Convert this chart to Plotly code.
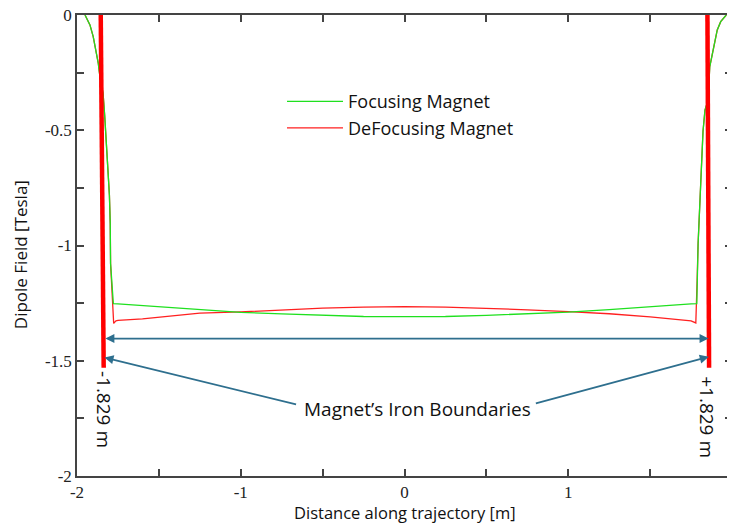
import plotly.graph_objects as go

# ---------------- data ----------------
focus_x = [-1.951, -1.921, -1.901, -1.884, -1.870, -1.860, -1.841, -1.831, -1.821, -1.811,
           -1.802, -1.797, -1.795, -1.785, -1.778,
           -1.75, -1.5, -1.25, -1.0, -0.75, -0.5, -0.25, 0.0, 0.25, 0.5, 0.75, 1.0, 1.25, 1.5, 1.75,
           1.785, 1.787, 1.793, 1.809, 1.823, 1.835, 1.854, 1.864, 1.876, 1.890, 1.910, 1.931, 1.965]
focus_y = [0.0, -0.043, -0.094, -0.152, -0.210, -0.268, -0.339, -0.435, -0.535, -0.674,
           -0.783, -0.904, -1.078, -1.196, -1.252,
           -1.253, -1.265, -1.280, -1.290, -1.297, -1.303, -1.308, -1.309, -1.308, -1.303, -1.297, -1.289, -1.278, -1.264, -1.253,
           -1.252, -1.152, -0.991, -0.730, -0.504, -0.413, -0.370, -0.225, -0.181, -0.122, -0.065, -0.029, 0.0]

defocus_x = [-1.951, -1.921, -1.901, -1.884, -1.870, -1.860, -1.841, -1.831, -1.821, -1.811,
             -1.802, -1.797, -1.795, -1.788, -1.776, -1.762,
             -1.75, -1.6, -1.5, -1.25, -1.0, -0.75, -0.5, -0.25, 0.0, 0.25, 0.5, 0.75, 1.0, 1.25, 1.5, 1.6, 1.75,
             1.779, 1.785, 1.787, 1.793, 1.809, 1.823, 1.835, 1.854, 1.864, 1.876, 1.890, 1.910, 1.931, 1.965]
defocus_y = [0.0, -0.043, -0.094, -0.152, -0.210, -0.268, -0.339, -0.435, -0.535, -0.674,
             -0.783, -0.904, -1.078, -1.196, -1.338, -1.327,
             -1.325, -1.318, -1.310, -1.293, -1.288, -1.279, -1.272, -1.267, -1.265, -1.267, -1.272, -1.279, -1.287, -1.296, -1.310, -1.318, -1.327,
             -1.336, -1.240, -1.152, -0.991, -0.730, -0.504, -0.413, -0.370, -0.225, -0.181, -0.122, -0.065, -0.029, 0.0]

# iron boundary markers (thick red lines)
bound_y = [0.0, -1.53]
bound_left_x = [-1.855, -1.837]
bound_right_x = [1.850, 1.860]

# annotation anchor values
span_y = -1.404
span_left_x = -1.836
span_right_x = 1.857
diag_head_left = (-1.832, -1.486)
diag_tail_left = (-0.653, -1.691)
diag_head_right = (1.858, -1.483)
diag_tail_right = (0.793, -1.687)
label_pos = (0.079, -1.709)
left_label_pos = (-1.835, -1.709)
right_label_pos = (1.851, -1.743)

x_tickvals = [-2, -1.5, -1, -0.5, 0, 0.5, 1, 1.5, 2]
x_ticktext = ["-2", "", "-1", "", "0", "", "1", "", "2"]
y_tickvals = [0, -0.25, -0.5, -0.75, -1, -1.25, -1.5, -1.75, -2]
y_ticktext = ["0", "", "-0.5", "", "-1", "", "-1.5", "", "-2"]

x_title = "Distance along trajectory [m]"
y_title = "Dipole Field [Tesla]"

GREEN = "#1fe01f"
RED = "#ff2020"
ARROW = "#2e6f8e"
AXIS = "#444444"
SANS = "Open Sans"
SERIF = "Liberation Serif, DejaVu Serif, serif"
TXT = "#111111"

fig = go.Figure()
fig.add_trace(go.Scatter(x=defocus_x, y=defocus_y, mode="lines", name="DeFocusing Magnet",
                         line=dict(color=RED, width=1.3), legendrank=2))
fig.add_trace(go.Scatter(x=focus_x, y=focus_y, mode="lines", name="Focusing Magnet",
                         line=dict(color=GREEN, width=1.3), legendrank=1))
fig.add_trace(go.Scatter(x=bound_left_x, y=bound_y, mode="lines", showlegend=False,
                         line=dict(color="#ff0000", width=4.5)))
fig.add_trace(go.Scatter(x=bound_right_x, y=bound_y, mode="lines", showlegend=False,
                         line=dict(color="#ff0000", width=4.5)))

annots = []
annots.append(dict(x=span_right_x, y=span_y, ax=span_left_x, ay=span_y, xref="x", yref="y",
                   axref="x", ayref="y", text="", showarrow=True, arrowhead=2, arrowside="end+start",
                   arrowsize=1, arrowwidth=1.8, arrowcolor=ARROW, standoff=0, startstandoff=0))
for head, tail in [(diag_head_left, diag_tail_left), (diag_head_right, diag_tail_right)]:
    annots.append(dict(x=head[0], y=head[1], ax=tail[0], ay=tail[1], xref="x", yref="y",
                       axref="x", ayref="y", text="", showarrow=True, arrowhead=2,
                       arrowsize=1, arrowwidth=1.8, arrowcolor=ARROW, standoff=0))
annots.append(dict(x=label_pos[0], y=label_pos[1], xref="x", yref="y", text="Magnet’s Iron Boundaries",
                   showarrow=False, font=dict(family=SANS, size=19, color=TXT)))
annots.append(dict(x=left_label_pos[0], y=left_label_pos[1], xref="x", yref="y", text="-1.829 m",
                   textangle=90, showarrow=False, font=dict(family=SANS, size=19, color=TXT)))
annots.append(dict(x=right_label_pos[0], y=right_label_pos[1], xref="x", yref="y", text="+1.829 m",
                   textangle=90, showarrow=False, font=dict(family=SANS, size=19, color=TXT)))
# axis titles
annots.append(dict(x=0.5, y=-0.079, xref="paper", yref="paper", text=x_title, showarrow=False,
                   xanchor="center", yanchor="middle", font=dict(family=SANS, size=16.5, color=TXT)))
annots.append(dict(x=-0.087, y=0.479, xref="paper", yref="paper", text=y_title, showarrow=False,
                   textangle=-90, xanchor="center", yanchor="middle",
                   font=dict(family=SANS, size=17, color=TXT)))

axis_common = dict(showline=True, linecolor=AXIS, linewidth=1.5, mirror="ticks", ticks="inside",
                   ticklen=7, tickwidth=1.5, tickcolor=AXIS, showgrid=False, zeroline=False,
                   automargin=False, ticklabeloverflow="allow",
                   tickfont=dict(family=SERIF, size=17, color="#222222"))

# the page body has an 8px margin, so the figure is sized/offset to fill the 735x523 window
fig.update_layout(
    width=727, height=515,
    margin=dict(l=69, r=3, t=7, b=47),
    paper_bgcolor="white", plot_bgcolor="white",
    annotations=annots,
    legend=dict(x=0.313, y=0.852, xanchor="left", yanchor="top", bgcolor="rgba(0,0,0,0)",
                font=dict(family=SANS, size=18, color=TXT), itemwidth=56, tracegroupgap=0),
    xaxis=dict(range=[-2, 2], tickvals=x_tickvals, ticktext=x_ticktext, **axis_common),
    yaxis=dict(range=[-2, 0], tickvals=y_tickvals, ticktext=y_ticktext, **axis_common),
)

fig.write_html("out.html")
